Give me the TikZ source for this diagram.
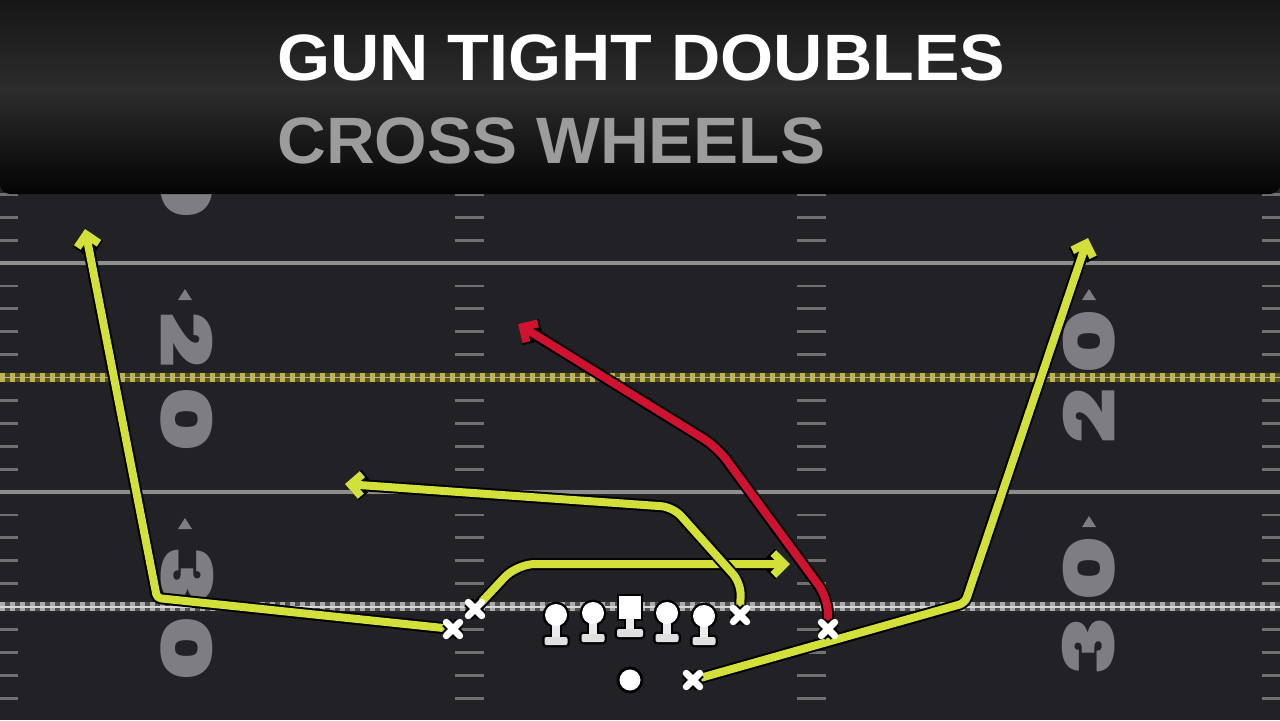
\documentclass[tikz,border=0pt]{standalone}
\usepackage{fontspec}
\newfontfamily\titlefont{Liberation Sans}
\IfFontExistsTF{Poppins Black}
    {\newfontfamily\numfont{Poppins Black}}
    {\newfontfamily\numfont{DejaVu Sans Bold}}
\usepackage{tikz}
\usetikzlibrary{arrows.meta, positioning, calc}

\definecolor{fieldbg}{HTML}{222226}
\definecolor{bartop}{HTML}{131313}
\definecolor{barmid}{HTML}{2C2C2C}
\definecolor{barbot}{HTML}{040404}
\definecolor{subgray}{HTML}{9C9C9C}
\definecolor{linegray}{HTML}{8E8E8E}
\definecolor{hashgray}{HTML}{707070}
\definecolor{numgray}{HTML}{7E7E82}
\definecolor{fdbase}{HTML}{55512C}
\definecolor{fdyellow}{HTML}{BDB44A}
\definecolor{fdcenter}{HTML}{BAB690}
\definecolor{losbase}{HTML}{505052}
\definecolor{losdash}{HTML}{ACACAC}
\definecolor{loscenter}{HTML}{D8D8D8}
\definecolor{routeyellow}{HTML}{D4E03A}
\definecolor{routered}{HTML}{CE1230}

\begin{document}
\begin{tikzpicture}[x=0.5pt, y=-0.5pt,
    % Field styles
    yardline/.style={draw=linegray, line width=2pt, preaction={draw=black!85, line width=3.4pt}},
    fdline/.style={draw=fdyellow, line width=4.2pt, dash pattern=on 2.5pt off 2.5pt,
        preaction={draw=black!85, line width=5.8pt, solid},
        preaction={draw=fdbase, line width=4.2pt, solid},
        postaction={draw=fdcenter, line width=0.9pt, solid}},
    losline/.style={draw=losdash, line width=4.8pt, dash pattern=on 2.5pt off 2.5pt,
        preaction={draw=black!85, line width=6.4pt, solid},
        preaction={draw=losbase, line width=4.8pt, solid},
        postaction={draw=loscenter, line width=1pt, solid}},
    hashmark/.style={draw=hashgray, line width=1.4pt},
    yardnum/.style={font=\numfont\fontsize{35}{35}\selectfont, text=numgray, inner sep=0pt, xscale=1.38},
    % Title styles
    titletext/.style={font=\titlefont\bfseries\fontsize{32.8}{36}\selectfont, inner sep=0pt, xscale=1.04},
    % Player styles
    xplayer/.style={inner sep=0pt, minimum size=0pt},
    xmark/.style={draw=white, line width=3.4pt, line cap=round, preaction={draw=black, line width=5.6pt}},
    lhead/.style={circle, fill=white, inner sep=0pt, minimum size=11pt},
    chead/.style={rectangle, fill=white, inner sep=0pt, minimum width=11pt, minimum height=11.5pt},
    qbdot/.style={circle, fill=white, draw=black, line width=1.4pt, inner sep=0pt, minimum size=12pt},
    % Route styles
    route/.style={line width=4pt, line join=round, line cap=round, rounded corners=4pt,
        -{Straight Barb[length=5.5pt, width=11pt]}, preaction={draw=black, line width=6pt}}
]
\useasboundingbox (0,0) rectangle (1280,720);
\fill[fieldbg] (0,0) rectangle (1280,720);

% Hash marks
\foreach \k in {-3,...,19} {
    \pgfmathtruncatemacro\m{mod(\k+20,5)}
    \ifnum\m=0 \else
        \foreach \hx/\hw in {0/18, 455/29, 797/29, 1262/18}
            \draw[hashmark] (\hx,263+\k*22.9) -- ++(\hw,0);
    \fi
}

% Yard numbers
\node[rotate=-90, yardnum] (l10b) at (187,186) {0};
\node[rotate=-90, yardnum] (l20a) at (187,340) {2};
\node[rotate=-90, yardnum] (l20b) at (187,419) {0};
\node[rotate=-90, yardnum] (l30a) at (187,576) {3};
\node[rotate=-90, yardnum] (l30b) at (187,648) {0};
\node[rotate=90, yardnum] (r20b) at (1089,342) {0};
\node[rotate=90, yardnum] (r20a) at (1089,416) {2};
\node[rotate=90, yardnum] (r30b) at (1089,569) {0};
\node[rotate=90, yardnum] (r30a) at (1089,646) {3};
\foreach \tx/\ty in {185/295, 185/524, 1089/295, 1089/522}
    \fill[numgray] (\tx,\ty-6) -- (\tx+7,\ty+5) -- (\tx-7,\ty+5) -- cycle;

% Yard lines
\draw[yardline] (0,263) -- (1280,263);
\draw[yardline] (0,492) -- (1280,492);
\draw[fdline] (0,377.5) -- (1280,377.5);
\draw[losline] (0,606.5) -- (1280,606.5);

% Title bar
\shade[top color=bartop, bottom color=barbot, middle color=barmid, rounded corners=5pt]
    (0,-14) rectangle (1280,194);
\node[titletext, text=white, anchor=base west] (title) at (277,80) {GUN TIGHT DOUBLES};
\node[titletext, text=subgray, anchor=base west, xscale=0.99] (play) at (277,163) {CROSS WHEELS};

% Skill players
\node[xplayer] (lwr) at (453,629) {};
\node[xplayer] (lslot) at (475,609) {};
\node[xplayer] (rte) at (740,615) {};
\node[xplayer] (rwr) at (828,629) {};
\node[xplayer] (rb) at (693,680) {};

% Route breaks and ends
\coordinate (lwr-cut) at (157,598);
\coordinate (lwr-end) at (85,229);
\coordinate (lslot-cut) at (517,564);
\coordinate (lslot-end) at (790,564);
\coordinate (rte-up) at (741,583);
\coordinate (rte-cut) at (673,507);
\coordinate (rte-end) at (345,484);
\coordinate (rwr-up) at (828,598);
\coordinate (rwr-cut) at (717,447);
\coordinate (rwr-end) at (518,324);
\coordinate (rb-cut) at (965,603);
\coordinate (rb-end) at (1088,238);

% Routes
\draw[route, draw=routeyellow, rounded corners=2pt] (lwr.center) -- (lwr-cut) -- (lwr-end);
\draw[route, draw=routeyellow, rounded corners=9pt] (lslot.center) -- (lslot-cut) -- (lslot-end);
\draw[route, draw=routeyellow, rounded corners=6pt] (rte.center) -- (rte-up) -- (rte-cut) -- (rte-end);
\draw[route, draw=routered, rounded corners=8pt] (rwr.center) -- (rwr-up) -- (rwr-cut) -- (rwr-end);
\draw[route, draw=routeyellow, rounded corners=3pt] (rb.center) -- (rb-cut) -- (rb-end);

% X marks
\foreach \p in {lwr, lslot, rte, rwr, rb}
    \draw[xmark] ([shift={(-3.4pt,-3.4pt)}]\p.center) -- ([shift={(3.4pt,3.4pt)}]\p.center)
                 ([shift={(-3.4pt,3.4pt)}]\p.center) -- ([shift={(3.4pt,-3.4pt)}]\p.center);

% Offensive line, outline first
\foreach \x/\y/\b in {556/615/645, 593/613/642, 667/613/642, 704/616/645} {
    \filldraw[black, line width=2.4pt] (\x,\y) circle[radius=11];
    \filldraw[black, line width=2.4pt] (\x-4,\y) rectangle (\x+4,\b-6);
    \filldraw[black, line width=2.4pt, rounded corners=1pt] (\x-11.5,\b-8) rectangle (\x+11.5,\b);
}
\filldraw[black, line width=2.4pt] (619,596) rectangle (641,619);
\filldraw[black, line width=2.4pt] (626,619) rectangle (634,631);
\filldraw[black, line width=2.4pt, rounded corners=1pt] (617,629) rectangle (643,637);
\foreach \x/\y/\b in {556/615/645, 593/613/642, 667/613/642, 704/616/645} {
    \fill[black!8] (\x-4,\y) rectangle (\x+4,\b-6);
    \fill[black!12, rounded corners=1pt] (\x-11.5,\b-8) rectangle (\x+11.5,\b);
}
\fill[black!8] (626,619) rectangle (634,631);
\fill[black!12, rounded corners=1pt] (617,629) rectangle (643,637);
\node[lhead] (lt) at (556,615) {};
\node[lhead] (lg) at (593,613) {};
\node[chead] (c) at (630,607.5) {};
\node[lhead] (rg) at (667,613) {};
\node[lhead] (rt) at (704,616) {};

% Quarterback
\node[qbdot] (qb) at (630,680) {};

\end{tikzpicture}
\end{document}
